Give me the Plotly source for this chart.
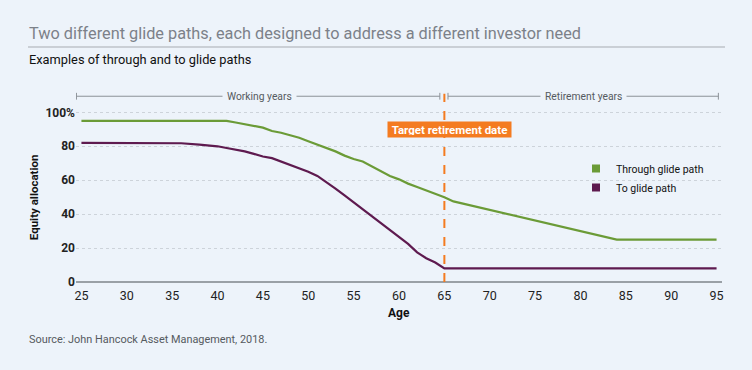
import plotly.graph_objects as go

# ---- data ----
through_age = [25, 41, 42, 43, 44, 45, 46, 47, 48, 49, 50, 51, 52, 53, 54, 55, 56, 57, 58, 59, 60,
               61, 62, 63, 64, 65, 66, 84, 95]
through_val = [95, 95, 94, 93, 92, 91, 89, 88, 86.5, 85, 83, 81, 79, 77, 74.5, 72.5, 71, 68, 65.5, 62.5, 60.5,
               58, 56, 54, 52, 50, 47.5, 25, 25]
to_age = [25, 35, 36, 38, 40, 41, 42, 43, 44, 45, 46, 47, 48, 49, 50, 51, 52, 53, 54, 55, 56, 57, 58,
          59, 60, 61, 62, 63, 64, 65, 95]
to_val = [82, 82, 81.8, 81, 80, 79, 78, 77, 75.5, 74, 73, 71, 69, 67, 65, 62.5, 59, 55, 51, 47, 43, 39, 35,
          31, 27, 22.5, 17.5, 14, 11.5, 8, 8]
x_ticks = [25, 30, 35, 40, 45, 50, 55, 60, 65, 70, 75, 80, 85, 90, 95]
y_ticks = [0, 20, 40, 60, 80, 100]
y_ticktext = ["0", "20", "40", "60", "80", "100%"]
retire_age = 65
series_names = ["Through glide path", "To glide path"]

# ---- style ----
W, H = 752, 370
L, R, T, B = 76, 30, 92, 88
BG = "#EDF3FA"
GREEN = "#6B9B37"
PURPLE = "#5E1A4F"
ORANGE = "#F47B20"
FONT = "Roboto, sans-serif"


def px_x(p):
    return (p - L) / (W - L - R)


def px_y(p):
    return (H - B - p) / (H - T - B)


fig = go.Figure()
fig.add_trace(go.Scatter(x=through_age, y=through_val, mode="lines",
                         line=dict(color=GREEN, width=2.2), showlegend=False,
                         name=series_names[0]))
fig.add_trace(go.Scatter(x=to_age, y=to_val, mode="lines",
                         line=dict(color=PURPLE, width=2.2), showlegend=False,
                         name=series_names[1]))
# legend entries (square swatches)
fig.add_trace(go.Scatter(x=[None], y=[None], mode="markers", name=series_names[0],
                         marker=dict(symbol="square", size=8, color=GREEN)))
fig.add_trace(go.Scatter(x=[None], y=[None], mode="markers", name=series_names[1],
                         marker=dict(symbol="square", size=8, color=PURPLE)))

shapes = []
# target retirement dashed line
shapes.append(dict(type="line", xref="x", yref="y", x0=retire_age, x1=retire_age, y0=0, y1=111,
                   line=dict(color=ORANGE, width=2, dash="dash"), layer="above"))
# brackets
br_y = 109.5
for (a, b) in [(24.45, 64.5), (65.4, 95.2)]:
    shapes.append(dict(type="line", xref="x", yref="y", x0=a, x1=b, y0=br_y, y1=br_y,
                       line=dict(color="#8C9197", width=1)))
    for e in (a, b):
        shapes.append(dict(type="line", xref="x", yref="y", x0=e, x1=e, y0=br_y - 2, y1=br_y + 2,
                           line=dict(color="#8C9197", width=1)))
# title rule
shapes.append(dict(type="line", xref="paper", yref="paper", x0=px_x(28), x1=px_x(725),
                   y0=px_y(47), y1=px_y(47), line=dict(color="#A7ABB1", width=1)))

annotations = [
    dict(text="Two different glide paths, each designed to address a different investor need",
         xref="paper", yref="paper", x=px_x(27), y=px_y(34), xanchor="left", yanchor="middle",
         showarrow=False, font=dict(family=FONT, size=16.3, color="#7C8189")),
    dict(text="Examples of through and to glide paths",
         xref="paper", yref="paper", x=px_x(27), y=px_y(60), xanchor="left", yanchor="middle",
         showarrow=False, font=dict(family=FONT, size=12.8, color="#111111")),
    dict(text="Source: John Hancock Asset Management, 2018.",
         xref="paper", yref="paper", x=px_x(27), y=px_y(339), xanchor="left", yanchor="middle",
         showarrow=False, font=dict(family=FONT, size=10.9, color="#555A60")),
    dict(text="<b>Equity allocation</b>", xref="paper", yref="y", x=px_x(34), y=50,
         textangle=-90, xanchor="center", yanchor="middle", showarrow=False,
         font=dict(family=FONT, size=11.5, color="#111111")),
    dict(text="<b>Age</b>", xref="x", yref="paper", x=60, y=px_y(313),
         xanchor="center", yanchor="middle", showarrow=False,
         font=dict(family=FONT, size=12, color="#111111")),
    dict(text="Working years", xref="x", yref="y", x=44.6, y=br_y, showarrow=False,
         bgcolor=BG, borderpad=4, font=dict(family=FONT, size=10.3, color="#555A60")),
    dict(text="Retirement years", xref="x", yref="y", x=80.3, y=br_y, showarrow=False,
         bgcolor=BG, borderpad=4, font=dict(family=FONT, size=10.3, color="#555A60")),
    dict(text="<b>Target retirement date</b>", xref="x", yref="y", x=65.55, y=90,
         showarrow=False, bgcolor=ORANGE, borderpad=2, width=119, height=11,
         font=dict(family=FONT, size=11.5, color="white")),
]

fig.update_layout(
    width=W, height=H,
    margin=dict(l=L, r=R, t=T, b=B, pad=0),
    paper_bgcolor=BG, plot_bgcolor=BG,
    font=dict(family=FONT, color="#111111"),
    shapes=shapes, annotations=annotations,
    legend=dict(x=px_x(576), y=px_y(154), xanchor="left", yanchor="top",
                bgcolor="rgba(0,0,0,0)", font=dict(family=FONT, size=10.5, color="#111111"),
                tracegroupgap=0, itemwidth=30),
    xaxis=dict(range=[24.4, 95.6], tickvals=x_ticks, showgrid=False, zeroline=False,
               showline=False, ticks="", automargin=False, ticklabelstandoff=4,
               tickfont=dict(family=FONT, size=12.5, color="#222222"),
               fixedrange=True),
    yaxis=dict(range=[0, 112], tickvals=y_ticks, ticktext=y_ticktext, showgrid=True,
               gridcolor="#CDD3DA", griddash="dot", gridwidth=1, automargin=False,
               zeroline=True, zerolinecolor="#9AA0A6", zerolinewidth=1.5,
               ticks="", tickfont=dict(family=FONT, size=12, color="#222222", weight="bold"),
               fixedrange=True),
)

fig.write_html("out.html", config={"displayModeBar": False},
               post_script="document.body.style.margin='0';")
